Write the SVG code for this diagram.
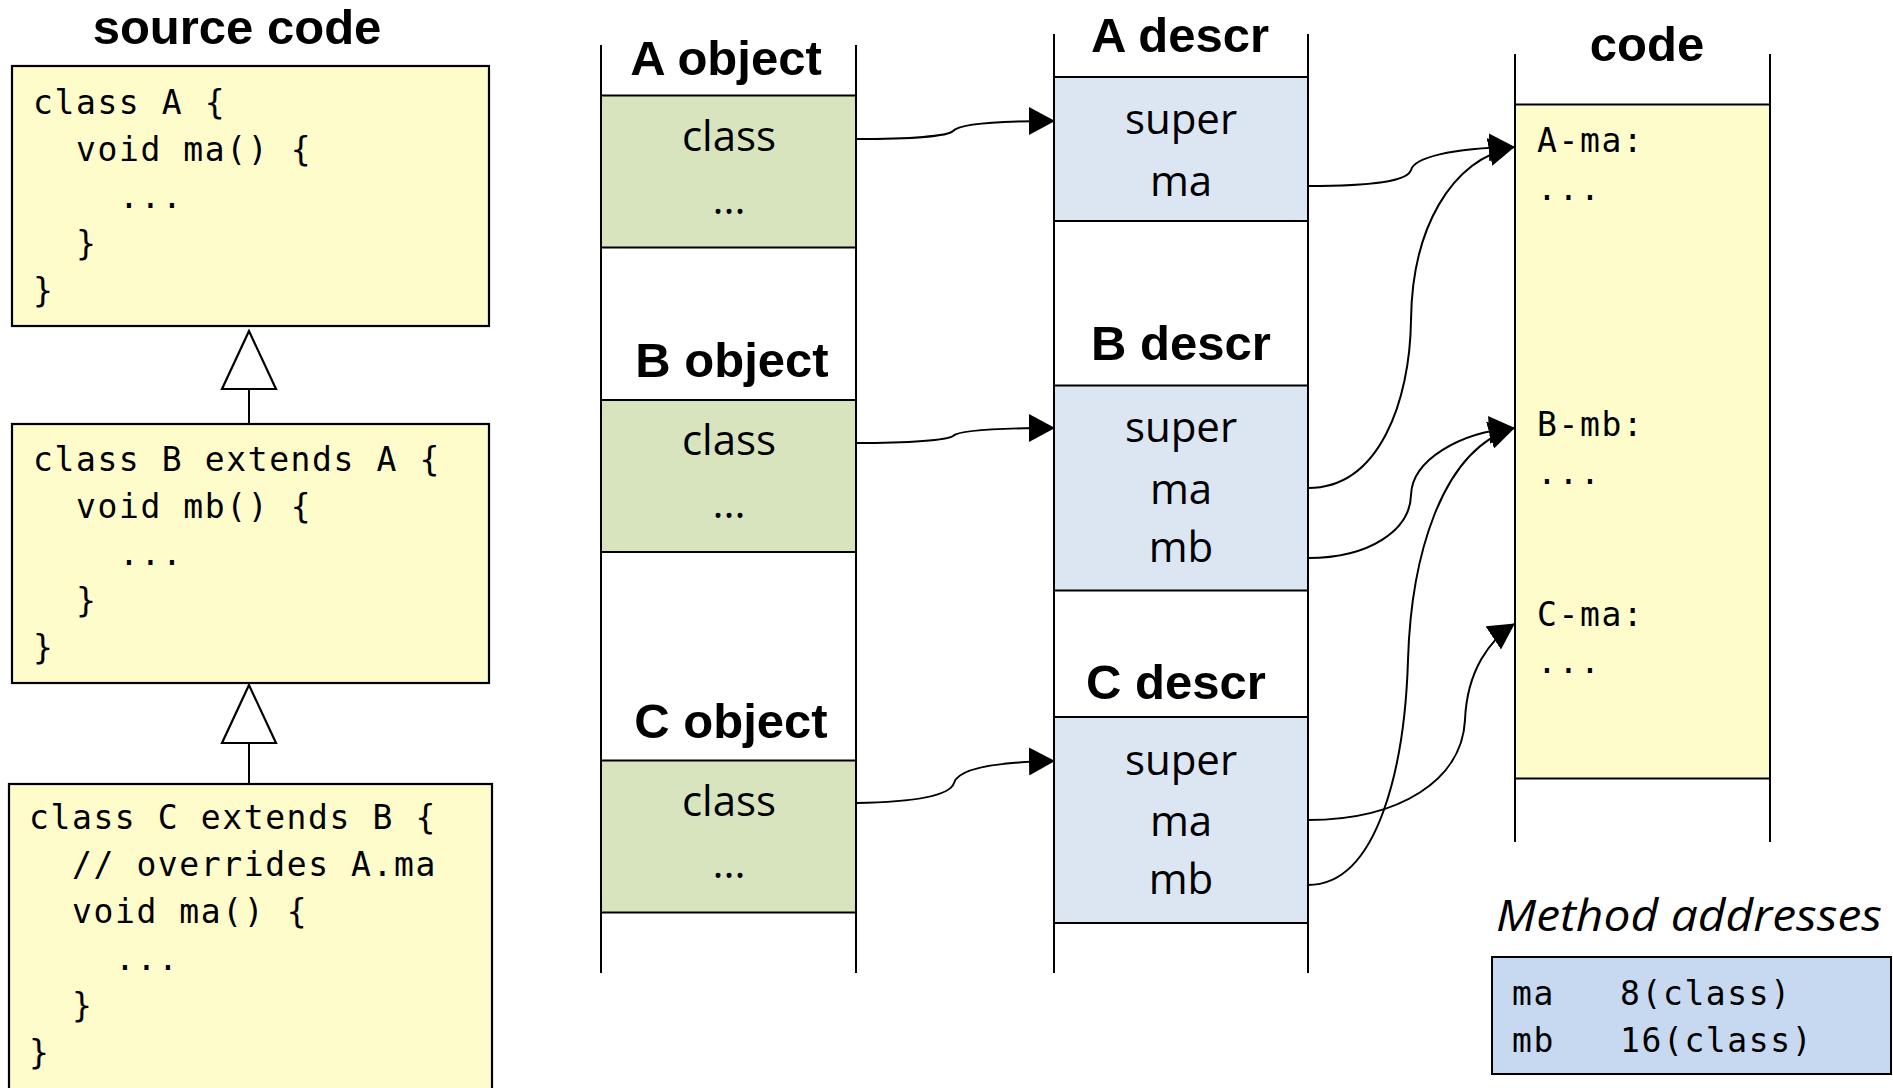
<svg xmlns="http://www.w3.org/2000/svg" width="1893" height="1088" viewBox="0 0 1893 1088">
<style>
.title{font-family:"Liberation Sans",Arial,sans-serif;font-weight:bold;font-size:49px;fill:#000;text-anchor:middle}
.mono{font-family:"DejaVu Sans Mono","Liberation Mono",monospace;font-size:33px;letter-spacing:1.6px;fill:#000}
.cell{font-family:"Open Sans","Noto Sans",sans-serif;font-size:42px;fill:#000;text-anchor:middle}
.ital{font-family:"Open Sans","Noto Sans",sans-serif;font-style:italic;font-size:43px;fill:#000}
.src{fill:#fffccc;stroke:#000;stroke-width:2.2}
.obj{fill:#d7e4bd;stroke:#000;stroke-width:2}
.dsc{fill:#dce6f2;stroke:#000;stroke-width:2}
.code{fill:#fffccc;stroke:#000;stroke-width:2}
.maddr{fill:#c6d9f0;stroke:#000;stroke-width:2}
.col{stroke:#000;stroke-width:2;fill:none}
.arr{fill:none;stroke:#000;stroke-width:2;marker-end:url(#head)}
.inh{fill:#fff;stroke:#000;stroke-width:2.2}
</style>
<defs>
<marker id="head" markerUnits="userSpaceOnUse" markerWidth="26" markerHeight="28" refX="25" refY="14" orient="auto">
<path d="M0,0 L26,14 L0,28 z" fill="#000"/>
</marker>
</defs>
<rect width="1893" height="1088" fill="#fff"/>

<g id="source-title"><text class="title" x="237" y="44">source code</text></g>

<g id="classA">
<rect class="src" x="12" y="66" width="477" height="260"/>
<text class="mono"><tspan x="33" y="114">class A {</tspan><tspan x="76" y="161">void ma() {</tspan><tspan x="119" y="208">...</tspan><tspan x="76" y="255">}</tspan><tspan x="33" y="302">}</tspan></text>
</g>
<g id="classB">
<rect class="src" x="12" y="424" width="477" height="259"/>
<text class="mono"><tspan x="33" y="471">class B extends A {</tspan><tspan x="76" y="518">void mb() {</tspan><tspan x="119" y="565">...</tspan><tspan x="76" y="612">}</tspan><tspan x="33" y="659">}</tspan></text>
</g>
<g id="classC">
<rect class="src" x="9" y="784" width="483" height="320"/>
<text class="mono"><tspan x="29" y="829">class C extends B {</tspan><tspan x="72" y="876">// overrides A.ma</tspan><tspan x="72" y="923">void ma() {</tspan><tspan x="115" y="970">...</tspan><tspan x="72" y="1017">}</tspan><tspan x="29" y="1064">}</tspan></text>
</g>

<g id="objects">
<path class="col" d="M601,45 V973 M856,45 V973"/>
<text class="title" x="726" y="75">A object</text>
<rect class="obj" x="601" y="95.5" width="255" height="152"/>
<text class="cell" x="729" y="151">class</text>
<text class="cell" x="729" y="214">...</text>
<text class="title" x="732" y="377">B object</text>
<rect class="obj" x="601" y="400" width="255" height="152"/>
<text class="cell" x="729" y="455">class</text>
<text class="cell" x="729" y="518">...</text>
<text class="title" x="731" y="738">C object</text>
<rect class="obj" x="601" y="760.5" width="255" height="152"/>
<text class="cell" x="729" y="816">class</text>
<text class="cell" x="729" y="878">...</text>
</g>

<g id="descriptors">
<path class="col" d="M1054,34 V973 M1308,34 V973"/>
<text class="title" x="1180" y="52">A descr</text>
<rect class="dsc" x="1054" y="77" width="254" height="144"/>
<text class="cell" x="1181" y="134">super</text>
<text class="cell" x="1181" y="196">ma</text>
<text class="title" x="1181" y="360">B descr</text>
<rect class="dsc" x="1054" y="385.5" width="254" height="205"/>
<text class="cell" x="1181" y="442">super</text>
<text class="cell" x="1181" y="504">ma</text>
<text class="cell" x="1181" y="562">mb</text>
<text class="title" x="1176" y="699">C descr</text>
<rect class="dsc" x="1054" y="717" width="254" height="206"/>
<text class="cell" x="1181" y="775">super</text>
<text class="cell" x="1181" y="836">ma</text>
<text class="cell" x="1181" y="894">mb</text>
</g>

<g id="code">
<path class="col" d="M1515,54 V842 M1770,54 V842"/>
<text class="title" x="1647" y="61">code</text>
<rect class="code" x="1515" y="104.5" width="255" height="674"/>
<text class="mono"><tspan x="1537" y="152">A-ma:</tspan><tspan x="1537" y="200">...</tspan><tspan x="1537" y="436">B-mb:</tspan><tspan x="1537" y="484">...</tspan><tspan x="1537" y="626">C-ma:</tspan><tspan x="1537" y="673">...</tspan></text>
</g>

<g id="method-addresses">
<text class="ital" x="1496" y="931" textLength="386" lengthAdjust="spacingAndGlyphs">Method  addresses</text>
<rect class="maddr" x="1492" y="957" width="399" height="117"/>
<text class="mono"><tspan x="1512" y="1005">ma</tspan><tspan x="1620" y="1005">8(class)</tspan><tspan x="1512" y="1052">mb</tspan><tspan x="1620" y="1052">16(class)</tspan></text>
</g>

<g id="connectors">
<path class="col" d="M249,389 V424 M249,743 V784"/>
<polygon class="inh" points="249,331 222,389 276,389"/>
<polygon class="inh" points="249,685 222,743 276,743"/>
<path class="arr" d="M856,139 C910,139 948,136 953,131 C958,125 990,121 1054,121"/>
<path class="arr" d="M856,443 C910,443 948,440 953,436 C958,431 990,428 1054,428"/>
<path class="arr" d="M856,803 C920,802 950,795 954,783 C958,768 1000,762 1054,761"/>
<path class="arr" d="M1308,186 C1380,186 1408,180 1411,170 C1414,158 1450,148 1514,147"/>
<path class="arr" d="M1308,488 C1380,488 1410,400 1411,320 C1412,230 1450,160 1514,147"/>
<path class="arr" d="M1308,558 C1370,558 1410,530 1411,495 C1412,460 1460,432 1514,428"/>
<path class="arr" d="M1308,885 C1380,885 1405,760 1408,660 C1411,560 1440,450 1514,428"/>
<path class="arr" d="M1308,820 C1400,820 1462,780 1465,720 C1467,670 1490,640 1514,624"/>
</g>
</svg>
